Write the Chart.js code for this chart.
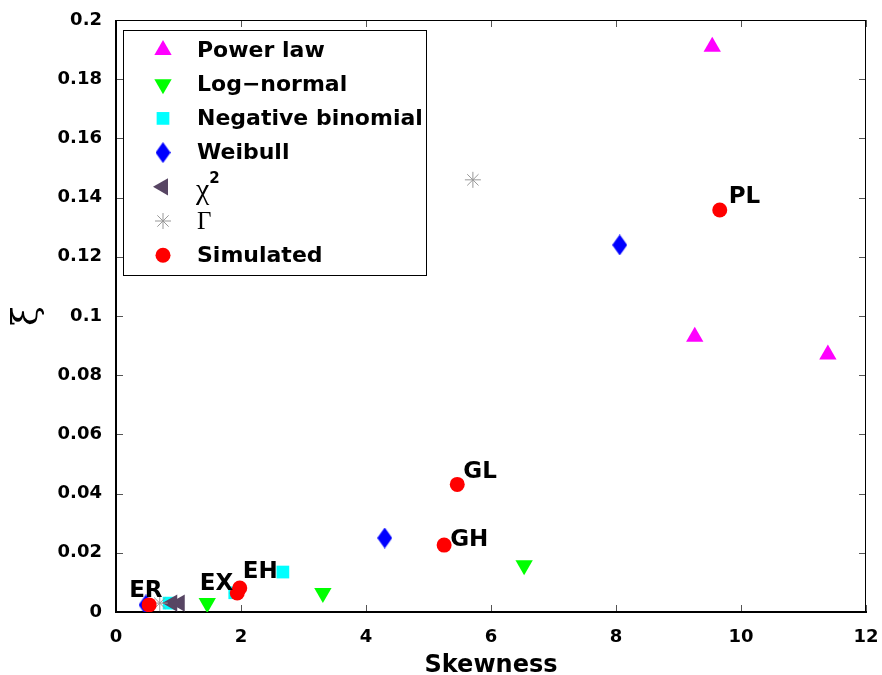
<!DOCTYPE html>
<html><head><meta charset="utf-8">
<script src="https://cdn.jsdelivr.net/npm/chart.js@4.4.0/dist/chart.umd.min.js"></script>
<style>html,body{margin:0;padding:0;background:#fff;}</style>
</head><body>
<canvas id="c" width="882" height="675"></canvas>
<script>
// ---- data ----
const xTicks = [0, 2, 4, 6, 8, 10, 12];
const xTickLabels = ['0', '2', '4', '6', '8', '10', '12'];
const yTicks = [0, 0.02, 0.04, 0.06, 0.08, 0.1, 0.12, 0.14, 0.16, 0.18, 0.2];
const yTickLabels = ['0', '0.02', '0.04', '0.06', '0.08', '0.1', '0.12', '0.14', '0.16', '0.18', '0.2'];
const seriesNames = ['Power law', 'Log\u2212normal', 'Negative binomial', 'Weibull', '\u03c72', '\u0393', 'Simulated'];

const powerLawX = [9.54, 9.26, 11.39];
const powerLawY = [0.191, 0.093, 0.087];
const logNormalX = [1.46, 3.31, 6.53];
const logNormalY = [0.003, 0.0064, 0.0158];
const negBinX = [0.85, 1.90, 2.67];
const negBinY = [0.003, 0.0065, 0.0135];
const weibullX = [0.48, 4.30, 8.06];
const weibullY = [0.0024, 0.025, 0.124];
const chi2X = [0.90, 1.02];
const chi2Y = [0.003, 0.003];
const gammaX = [0.70, 5.71];
const gammaY = [0.003, 0.146];
const simX = [0.53, 1.94, 1.98, 5.25, 5.46, 9.66];
const simY = [0.0024, 0.0064, 0.0081, 0.0226, 0.0431, 0.1358];
const simLabels = ['ER', 'EX', 'EH', 'GH', 'GL', 'PL'];

// ---- label placement (layout only) ----
const simLabelOffsets = [[-20, -8, 'left'], [-4, -3, 'right'], [3, -10, 'left'], [6, 1, 'left'], [6, -6, 'left'], [9, -7, 'left']];

const pts = (xs, ys) => xs.map((x, i) => ({x: x, y: ys[i]}));

// elongated diamond marker
function makeDiamond(w, h, color) {
  const c = document.createElement('canvas');
  c.width = w; c.height = h;
  const g = c.getContext('2d');
  g.fillStyle = color;
  g.beginPath();
  g.moveTo(w / 2, 0); g.lineTo(w, h / 2); g.lineTo(w / 2, h); g.lineTo(0, h / 2); g.closePath();
  g.fill();
  return c;
}
const diamond = makeDiamond(15, 21, '#0000ff');

const styles = [
  {bg: '#ff00ff', bc: '#ff00ff', ps: 'triangle', r: 10, rot: 0, bw: 0},
  {bg: '#00ff00', bc: '#00ff00', ps: 'triangle', r: 10, rot: 180, bw: 0},
  {bg: '#00ffff', bc: '#00ffff', ps: 'rect', r: 9, rot: 0, bw: 0},
  {bg: '#0000ff', bc: '#0000ff', ps: diamond, r: 10, rot: 0, bw: 0},
  {bg: '#574563', bc: '#574563', ps: 'triangle', r: 10, rot: 270, bw: 0},
  {bg: '#999999', bc: '#999999', ps: 'star', r: 8, rot: 0, bw: 1},
  {bg: '#ff0000', bc: '#ff0000', ps: 'circle', r: 7.5, rot: 0, bw: 0}
];
const seriesData = [
  pts(powerLawX, powerLawY), pts(logNormalX, logNormalY), pts(negBinX, negBinY),
  pts(weibullX, weibullY), pts(chi2X, chi2Y), pts(gammaX, gammaY), pts(simX, simY)
];

const datasets = seriesNames.map((n, i) => ({
  label: n,
  data: seriesData[i],
  backgroundColor: styles[i].bg,
  borderColor: styles[i].bc,
  pointStyle: styles[i].ps,
  pointRadius: styles[i].r,
  pointRotation: styles[i].rot,
  pointBorderWidth: styles[i].bw,
  order: 7 - i
}));

function drawMarker(ctx, s, x, y) {
  ctx.save();
  ctx.fillStyle = s.bg; ctx.strokeStyle = s.bc; ctx.lineWidth = s.bw;
  Chart.helpers.drawPoint(ctx, {pointStyle: s.ps, radius: s.r, rotation: s.rot, borderWidth: s.bw}, x, y);
  ctx.restore();
}

const framePlugin = {
  id: 'frame',
  beforeDatasetsDraw(chart) {
    const {ctx, chartArea: {left, right, top, bottom}, scales: {x, y}} = chart;
    ctx.save();
    ctx.strokeStyle = '#555'; ctx.lineWidth = 1;
    const L = 7;
    ctx.beginPath();
    xTicks.forEach(v => {
      const px = Math.round(x.getPixelForValue(v)) + 0.5;
      ctx.moveTo(px, bottom); ctx.lineTo(px, bottom - L);
      ctx.moveTo(px, top); ctx.lineTo(px, top + L);
    });
    yTicks.forEach(v => {
      const py = Math.round(y.getPixelForValue(v)) + 0.5;
      ctx.moveTo(left, py); ctx.lineTo(left + L, py);
      ctx.moveTo(right, py); ctx.lineTo(right - L, py);
    });
    ctx.stroke();
    ctx.strokeStyle = '#000'; ctx.lineWidth = 1;
    ctx.strokeRect(left + 0.5, top + 0.5, right - left - 1, bottom - top);
    ctx.lineWidth = 2;
    ctx.beginPath();
    ctx.moveTo(left, top); ctx.lineTo(left, bottom); ctx.lineTo(right + 1, bottom);
    ctx.stroke();
    ctx.restore();
  },
  afterDatasetsDraw(chart) {
    const ctx = chart.ctx;
    // simulated labels
    const meta = chart.getDatasetMeta(6);
    ctx.save();
    ctx.fillStyle = '#000';
    ctx.font = 'bold 23px "DejaVu Sans"';
    ctx.textBaseline = 'alphabetic';
    meta.data.forEach((p, i) => {
      const o = simLabelOffsets[i];
      ctx.textAlign = o[2];
      ctx.fillText(simLabels[i], p.x + o[0], p.y + o[1]);
    });
    // legend
    const bx = 123, by = 30, bw = 303, bh = 245;
    ctx.fillStyle = '#fff';
    ctx.fillRect(bx, by, bw, bh);
    ctx.strokeStyle = '#000'; ctx.lineWidth = 1;
    ctx.strokeRect(bx + 0.5, by + 0.5, bw, bh);
    const mx = 163, tx = 197, y0 = 50, dy = 34.2;
    seriesNames.forEach((n, i) => {
      const yy = y0 + i * dy;
      drawMarker(ctx, styles[i], mx, yy);
      ctx.fillStyle = '#000';
      ctx.textAlign = 'left';
      ctx.textBaseline = 'middle';
      if (i === 4) {
        ctx.font = '30px "Liberation Serif"';
        ctx.fillText('\u03c7', tx - 1, yy + 4);
        const w = ctx.measureText('\u03c7').width;
        ctx.font = 'bold 15px "DejaVu Sans"';
        ctx.fillText('2', tx + w - 1, yy - 8);
      } else if (i === 5) {
        ctx.font = '25px "Liberation Serif"';
        ctx.fillText(n, tx, yy + 1);
      } else {
        ctx.font = 'bold 22px "DejaVu Sans"';
        ctx.fillText(n, tx, yy + 1);
      }
    });
    ctx.restore();
  }
};

Chart.defaults.font.family = '"DejaVu Sans"';
new Chart(document.getElementById('c'), {
  type: 'scatter',
  data: {datasets: datasets},
  options: {
    responsive: false,
    animation: false,
    layout: {padding: {top: 20, right: 16, left: 0, bottom: 0}},
    plugins: {legend: {display: false}, tooltip: {enabled: false}},
    scales: {
      x: {
        type: 'linear', min: 0, max: 12,
        afterBuildTicks: s => { s.ticks = xTicks.map(v => ({value: v})); },
        afterFit: s => { s.height = 63; s.paddingLeft = 0; s.paddingRight = 0; },
        grid: {display: false, drawTicks: false},
        border: {display: false},
        ticks: {color: '#000', font: {size: 18, weight: 'bold'}, padding: 15, maxRotation: 0, autoSkip: false,
                callback: (v, i) => xTickLabels[i]},
        title: {display: true, text: 'Skewness', color: '#000', font: {size: 24, weight: 'bold', lineHeight: 0.8}, padding: 0}
      },
      y: {
        type: 'linear', min: 0, max: 0.2,
        afterBuildTicks: s => { s.ticks = yTicks.map(v => ({value: v})); },
        afterFit: s => { s.width = 116; s.paddingTop = 0; s.paddingBottom = 0; },
        grid: {display: false, drawTicks: false},
        border: {display: false},
        ticks: {color: '#000', font: {size: 18, weight: 'bold'}, padding: 14, autoSkip: false,
                callback: (v, i) => yTickLabels[i]},
        title: {display: true, text: '\u03be', color: '#000', font: {family: '"DejaVu Serif"', size: 36, lineHeight: 1}, padding: {top: 10, bottom: 0}}
      }
    }
  },
  plugins: [framePlugin]
});
</script>
</body></html>
